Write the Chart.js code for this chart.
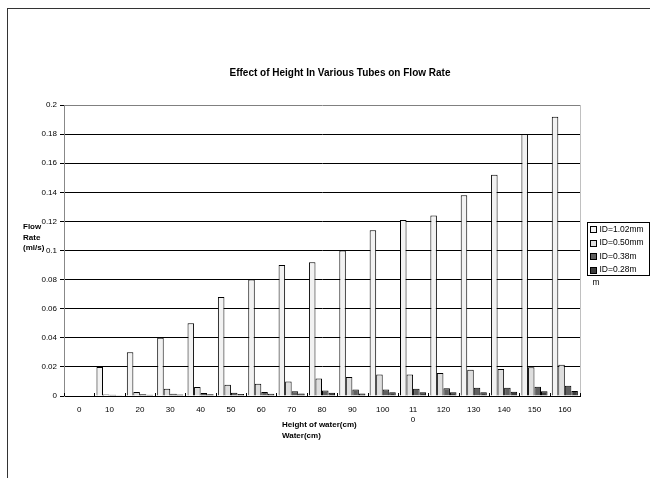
<!DOCTYPE html>
<html>
<head>
<meta charset="utf-8">
<script src="https://cdn.jsdelivr.net/npm/chart.js@4.4.1/dist/chart.umd.min.js"></script>
<style>
  html, body { margin: 0; padding: 0; background: #fff; }
  #wrap { position: relative; width: 650px; height: 478px; overflow: hidden; }
  #frame { position: absolute; left: 7px; top: 8px; width: 700px; height: 500px;
           border-left: 1px solid #333; border-top: 1px solid #333; }
  canvas { position: absolute; left: 0; top: 0; }
</style>
</head>
<body>
<div id="wrap">
  <div id="frame"></div>
  <canvas id="c" width="650" height="478"></canvas>
</div>
<script>
// ---- data ----
const categories = ['0','10','20','30','40','50','60','70','80','90','100',['11','0'],'120','130','140','150','160'];
const id102 = [0, 0.020, 0.030, 0.040, 0.050, 0.068, 0.080, 0.090, 0.092, 0.100, 0.114, 0.121, 0.124, 0.138, 0.152, 0.180, 0.192];
const id050 = [0, 0.0010, 0.0027, 0.0050, 0.0062, 0.0078, 0.0085, 0.0100, 0.0120, 0.0130, 0.0147, 0.0147, 0.0158, 0.0180, 0.0186, 0.0197, 0.0215];
const id038 = [0, 0.0008, 0.0012, 0.0016, 0.0020, 0.0023, 0.0028, 0.0032, 0.0037, 0.0044, 0.0044, 0.0050, 0.0053, 0.0057, 0.0057, 0.0064, 0.0071];
const id028 = [0, 0.0005, 0.0008, 0.0010, 0.0012, 0.0014, 0.0016, 0.0017, 0.0022, 0.0018, 0.0025, 0.0025, 0.0025, 0.0025, 0.0030, 0.0032, 0.0034];
const seriesLabels = ['ID=1.02mm', 'ID=0.50mm', 'ID=0.38m', 'ID=0.28m'];
const legendExtra = 'm';
const yTickLabels = ['0','0.02','0.04','0.06','0.08','0.1','0.12','0.14','0.16','0.18','0.2'];
const titleText = 'Effect of Height In Various Tubes on Flow Rate';
const yTitleLines = ['Flow', 'Rate', '(ml/s)'];
const xTitleLines = ['Height of water(cm)', 'Water(cm)'];

const fills = ['#f2f2f2', '#dedede', '#606060', '#3c3c3c'];
const FONT = '"Liberation Sans", Arial, sans-serif';

const decorPlugin = {
  id: 'decor',
  afterDraw(chart) {
    const ctx = chart.ctx;
    const a = chart.chartArea;
    const xs = chart.scales.x;
    ctx.save();
    // right border of plot
    ctx.strokeStyle = '#c0c0c0';
    ctx.lineWidth = 1;
    ctx.beginPath();
    ctx.moveTo(Math.round(a.right) + 0.5, a.top);
    ctx.lineTo(Math.round(a.right) + 0.5, a.bottom);
    ctx.stroke();
    // category boundary tick marks (inside)
    ctx.strokeStyle = '#000';
    const step = xs.getPixelForValue(1) - xs.getPixelForValue(0);
    for (let i = 0; i <= categories.length; i++) {
      const px = Math.round(xs.getPixelForValue(i) - step / 2) + 0.5;
      ctx.beginPath();
      ctx.moveTo(px, a.bottom);
      ctx.lineTo(px, a.bottom - 3);
      ctx.stroke();
    }
    // title
    ctx.fillStyle = '#000';
    ctx.font = 'bold 10px ' + FONT;
    ctx.textAlign = 'center';
    ctx.textBaseline = 'middle';
    ctx.fillText(titleText, 340, 73);
    // y title
    ctx.font = 'bold 8px ' + FONT;
    ctx.textAlign = 'left';
    yTitleLines.forEach((t, i) => ctx.fillText(t, 23, 227 + i * 10.5));
    // x title
    xTitleLines.forEach((t, i) => ctx.fillText(t, 282, 425 + i * 11));
    // legend
    const lx = Math.round(a.right) + 7.5, ly = 222.5, lw = 62, lh = 53;
    ctx.strokeStyle = '#000';
    ctx.strokeRect(lx, ly, lw, lh);
    ctx.font = '8.5px ' + FONT;
    chart.data.datasets.forEach((ds, i) => {
      const cy = 229 + i * 13.5;
      ctx.fillStyle = ds.backgroundColor;
      ctx.fillRect(lx + 3, Math.round(cy - 3) + 0.5, 6, 6);
      ctx.strokeRect(lx + 3, Math.round(cy - 3) + 0.5, 6, 6);
      ctx.fillStyle = '#000';
      ctx.fillText(ds.label, lx + 12, cy + 0.5);
    });
    ctx.fillText(legendExtra, lx + 5, 283);
    ctx.restore();
  }
};

new Chart(document.getElementById('c'), {
  type: 'bar',
  data: {
    labels: categories,
    datasets: [id102, id050, id038, id028].map((d, i) => ({
      label: seriesLabels[i],
      data: d,
      backgroundColor: fills[i],
      borderColor: '#000',
      borderWidth: 1,
      borderSkipped: 'bottom',
      categoryPercentage: 0.86,
      barPercentage: 1.0
    }))
  },
  options: {
    responsive: false,
    animation: false,
    devicePixelRatio: 1,
    layout: { padding: { left: 34, top: 105, right: 70, bottom: 52 } },
    plugins: { legend: { display: false }, title: { display: false }, tooltip: { enabled: false } },
    scales: {
      x: {
        offset: true,
        grid: { display: false, drawTicks: false },
        border: { display: true, color: '#000', width: 1 },
        ticks: {
          color: '#000', font: { family: FONT, size: 8 }, padding: 9,
          maxRotation: 0, autoSkip: false
        },
        afterFit(s) { s.height = 30; }
      },
      y: {
        min: 0, max: 0.2,
        grid: {
          color: (c) => (c.tick && Math.abs(c.tick.value - 0.2) < 1e-9) ? '#808080' : '#000',
          tickColor: '#000', tickLength: 4, lineWidth: 1
        },
        border: { display: true, color: '#888', width: 1 },
        ticks: {
          stepSize: 0.02, color: '#000', font: { family: FONT, size: 8 }, padding: 3,
          callback: (v, i) => yTickLabels[i]
        },
        afterFit(s) { s.width = 30; }
      }
    }
  },
  plugins: [decorPlugin]
});
</script>
</body>
</html>
